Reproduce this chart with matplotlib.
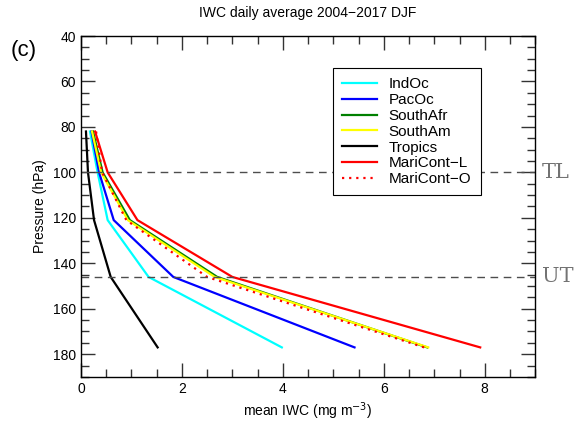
import numpy as np
import matplotlib
matplotlib.use("Agg")
import matplotlib.pyplot as plt
from matplotlib.ticker import MultipleLocator

# niveles de presion (hPa)
pressure = [82, 100, 121, 146, 177]

# IWC medio (mg m-3) por region
indoc = [0.18, 0.33, 0.53, 1.34, 3.98]
pacoc = [0.21, 0.36, 0.65, 1.83, 5.42]
southafr = [0.24, 0.43, 0.97, 2.70, 6.86]
southam = [0.22, 0.40, 0.93, 2.65, 6.88]
tropics = [0.10, 0.14, 0.26, 0.59, 1.52]
maricont_l = [0.28, 0.53, 1.12, 3.00, 7.91]
maricont_o = [0.30, 0.42, 0.90, 2.50, 6.80]

labels = ["IndOc", "PacOc", "SouthAfr", "SouthAm", "Tropics", "MariCont\u2212L", "MariCont\u2212O"]
series = [indoc, pacoc, southafr, southam, tropics, maricont_l, maricont_o]
cols = ["cyan", "#0000ff", "#008000", "#ffff00", "black", "red", "red"]
styles = ["-", "-", "-", "-", "-", "-", ":"]

ref_levels = [100, 146]
ref_names = ["TL", "UT"]

plt.rcParams["font.family"] = ["Liberation Sans", "DejaVu Sans"]

fig = plt.figure(figsize=(5.78, 4.24), dpi=100)
ax = fig.add_axes([0.140, 0.111, 0.786, 0.804])

for vals, lab, c, ls in zip(series, labels, cols, styles):
    ax.plot(vals, pressure, color=c, linestyle=ls, lw=1.6, label=lab,
            dashes=(1, 2.2) if ls == ":" else (None, None))

for lev, name in zip(ref_levels, ref_names):
    ax.axhline(lev, color="0.3", lw=1.0, dashes=(5.5, 4))
    ax.text(1.015, lev, name, transform=ax.get_yaxis_transform(), va="center", ha="left",
            fontsize=15, color="0.45", family="DejaVu Serif")

ax.set_xlim(0, 9)
ax.set_ylim(190, 40)
ax.xaxis.set_major_locator(MultipleLocator(2))
ax.xaxis.set_minor_locator(MultipleLocator(0.5))
ax.yaxis.set_major_locator(MultipleLocator(20))
ax.yaxis.set_minor_locator(MultipleLocator(5))
ax.tick_params(which="both", direction="in", top=True, right=True, labelsize=10, color="0.2")
ax.tick_params(which="major", length=10, width=1.0)
ax.tick_params(which="minor", length=5.5, width=1.0)
for s in ax.spines.values():
    s.set_linewidth(1.0)

ax.set_xlabel("mean IWC (mg m$^{-3}$)", fontsize=10, labelpad=3)
ax.set_ylabel("Pressure (hPa)", fontsize=10, labelpad=4)
ax.set_title("IWC daily average 2004\u22122017 DJF", fontsize=10, pad=14)
fig.text(0.018, 0.882, "(c)", fontsize=16, ha="left", va="center")

leg = ax.legend(loc="upper left", bbox_to_anchor=(0.555, 0.906), fontsize=11, frameon=True,
                fancybox=False, edgecolor="black", handlelength=2.3, handletextpad=0.75,
                labelspacing=0.12, borderpad=0.6, borderaxespad=0)
leg.get_frame().set_linewidth(0.8)
leg.get_frame().set_alpha(1)

fig.savefig("out.png", dpi=100)
